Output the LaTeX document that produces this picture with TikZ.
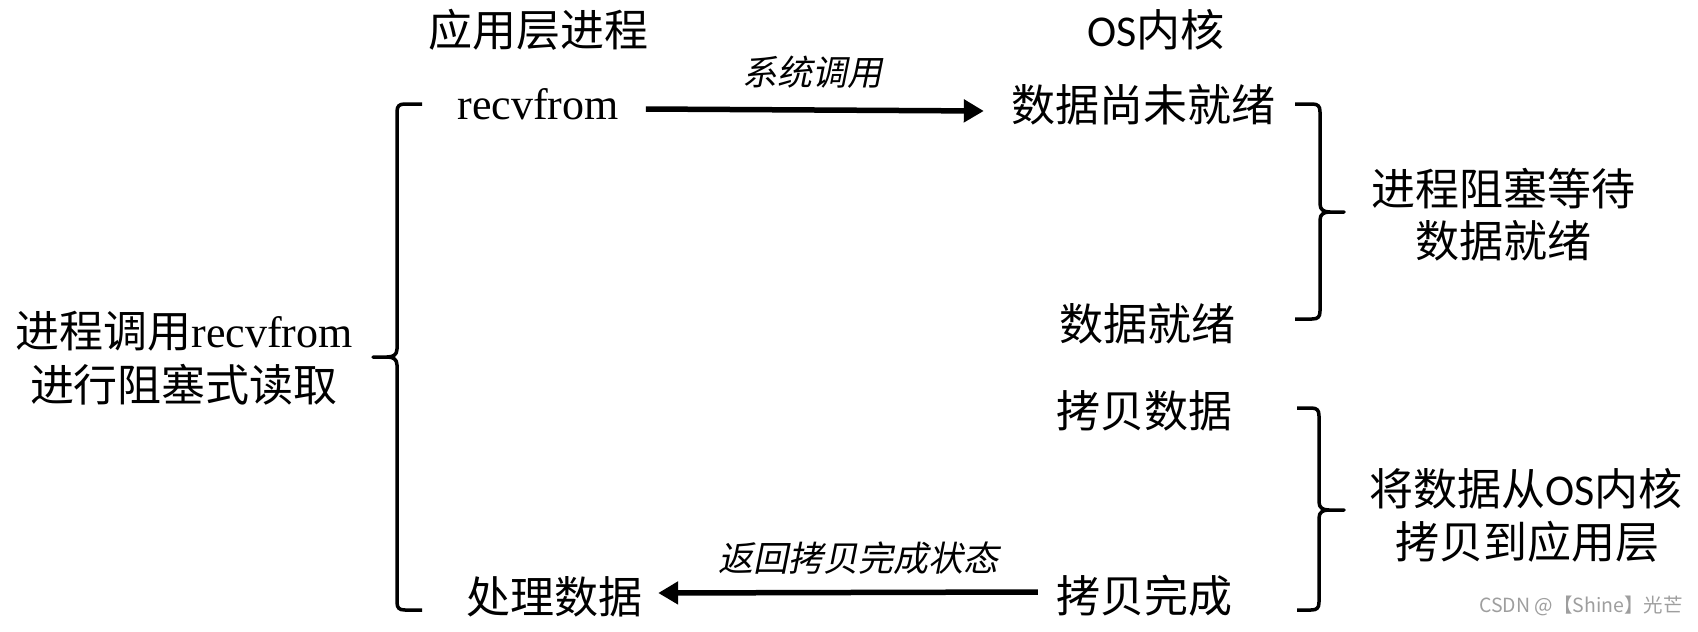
\documentclass[tikz,border=0pt]{standalone}
\usepackage{fontspec}
\setmainfont{Liberation Serif}
\newfontfamily\cjk{Noto Sans CJK SC}
\newfontfamily\cjkit[FakeSlant=0.2]{Noto Sans CJK SC}
\newfontfamily\osf{Carlito}
\usetikzlibrary{arrows.meta}
\begin{document}
\begin{tikzpicture}[x=1pt,y=-1pt,
  lbl/.style={inner sep=0pt, anchor=base, font=\fontsize{44}{52}\selectfont\cjk},
  rlbl/.style={inner sep=0pt, anchor=base, font=\fontsize{44}{52}\selectfont\rmfamily},
  itl/.style={inner sep=0pt, anchor=base, font=\fontsize{35}{40}\selectfont\cjkit},
  bigarrow/.style={line width=5.5pt, -{Triangle[length=20pt,width=22pt]}},
  bracepath/.style={line width=3.5pt, line join=round}
]
\useasboundingbox (0,0) rectangle (1698,632);

% headers
\node[lbl] (hApp) at (538,46) {应用层进程};
\node[lbl] (hOS) at (1156,46) {{\osf OS}内核};

% left column
\node[rlbl] (recv) at (538,119) {recvfrom};
\node[lbl] (proc) at (554,613) {处理数据};

% right column
\node[lbl] (notready) at (1143,121) {数据尚未就绪};
\node[lbl] (ready) at (1147,340) {数据就绪};
\node[lbl] (copy) at (1144,427) {拷贝数据};
\node[lbl] (copied) at (1144,612) {拷贝完成};

% explanations
\node[lbl] (l1) at (184,347) {进程调用{\rmfamily recvfrom}};
\node[lbl] (l2) at (184,401) {进行阻塞式读取};
\node[lbl] (r1a) at (1503,205) {进程阻塞等待};
\node[lbl] (r1b) at (1503,257) {数据就绪};
\node[lbl] (r2a) at (1526,505) {将数据从{\osf OS}内核};
\node[lbl] (r2b) at (1527,558) {拷贝到应用层};

% arrow labels
\node[itl] (sys) at (812,85) {系统调用};
\node[itl] (ret) at (858,571) {返回拷贝完成状态};

% arrows
\draw[bigarrow] ([xshift=27pt,yshift=10pt]recv.base east) -- ([xshift=-27pt,yshift=10pt]notready.base west);
\draw[bigarrow] ([xshift=-18pt,yshift=20pt]copied.base west) -- ([xshift=16pt,yshift=20pt]proc.base east);

% left brace
\draw[bracepath] (422,104) -- (405,104) .. controls (399,104) and (397,106) .. (397,112)
  -- (397,349) .. controls (397,355) and (393,357) .. (387,357) -- (373,357)
  -- (387,357) .. controls (393,357) and (397,359) .. (397,365)
  -- (397,602) .. controls (397,608) and (399,610) .. (405,610) -- (422,610);

% right brace 1
\draw[bracepath] (1295,104) -- (1312,104) .. controls (1318,104) and (1320,106) .. (1320,112)
  -- (1320,204) .. controls (1320,210) and (1324,212) .. (1330,212) -- (1344,212)
  -- (1330,212) .. controls (1324,212) and (1320,214) .. (1320,220)
  -- (1320,311) .. controls (1320,317) and (1318,319) .. (1312,319) -- (1295,319);

% right brace 2
\draw[bracepath] (1297,408) -- (1311,408) .. controls (1317,408) and (1319,410) .. (1319,416)
  -- (1319,502) .. controls (1319,508) and (1323,510) .. (1329,510) -- (1344,510)
  -- (1329,510) .. controls (1323,510) and (1319,512) .. (1319,518)
  -- (1319,602) .. controls (1319,608) and (1317,610) .. (1311,610) -- (1297,610);

% watermark
\node[inner sep=0pt, anchor=east, text=black!38, font=\fontsize{19.5}{22}\selectfont\cjk] (wm) at (1683,606) {CSDN @【Shine】光芒};
\end{tikzpicture}
\end{document}
